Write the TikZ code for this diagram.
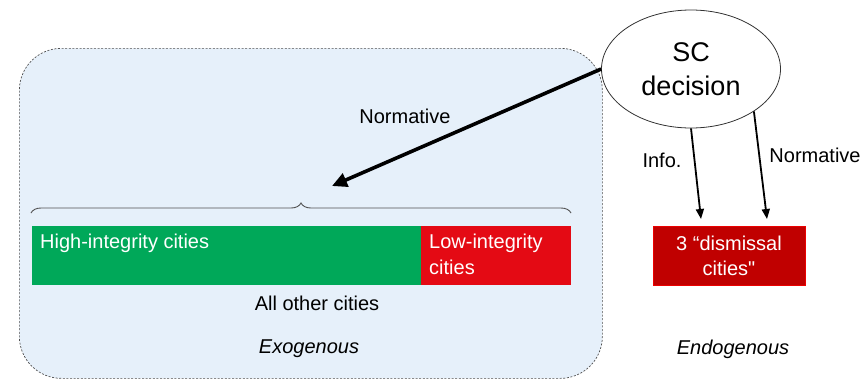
\documentclass[tikz,border=0pt]{standalone}
\usepackage{fontspec}
\setmainfont{Liberation Sans}
\newfontfamily\qfont{Liberation Sans}[Ligatures=TeXOff]
\usetikzlibrary{shapes.geometric,arrows.meta,decorations.pathreplacing}
\definecolor{framefill}{RGB}{230,240,250}
\definecolor{framedraw}{RGB}{80,80,80}
\definecolor{higreen}{RGB}{0,168,89}
\definecolor{lored}{RGB}{228,10,20}
\definecolor{disred}{RGB}{192,0,0}
\tikzset{
  txt/.style={font=\fontsize{20}{26}\selectfont, inner sep=0pt, align=center},
  wtxt/.style={txt, text=white, anchor=base west},
  bar/.style={minimum height=59pt, inner sep=0pt, anchor=north west, draw=none},
  bigarrow/.style={line width=3.6pt, -{Triangle[length=15pt,width=14pt]}},
  smallarrow/.style={line width=1.8pt, -{Triangle[length=10pt,width=8pt]}},
}
\begin{document}
\begin{tikzpicture}[x=1pt,y=-1pt]
\useasboundingbox (0,0) rectangle (864,381);
% frame
\node[draw=framedraw, fill=framefill, line width=0.7pt, dash pattern=on 2pt off 1.6pt,
      rounded corners=42pt, minimum width=583pt, minimum height=330pt, inner sep=0pt,
      anchor=north west] (frame) at (19,48) {};
% ellipse
\node[ellipse, draw=black!80, fill=white, line width=0.8pt, minimum width=179pt, minimum height=118pt,
      inner sep=0pt, align=center, font=\fontsize{27}{34}\selectfont] (sc) at (691,69) {SC\\decision};
% bars
\node[bar, fill=higreen, minimum width=390pt] (high) at (32,226) {};
\node[bar, fill=lored, minimum width=150pt] (low) at (421,226) {};
\node[wtxt] (hightxt) at (40,248) {High-integrity cities};
\node[wtxt] (lowtxt1) at (429,248) {Low-integrity};
\node[wtxt] (lowtxt2) at (429,274) {cities};
% brace
\coordinate (bl) at (31,213);
\coordinate (br) at (571,213);
\draw[framedraw, line width=0.9pt, decorate, decoration={brace, amplitude=10pt, aspect=0.5}] (bl) -- (br);
% labels
\node[txt] (allother) at (317,303) {All other cities};
\node[txt, font=\fontsize{20}{26}\selectfont\itshape] (exo) at (309,349) {Exogenous};
\node[txt, font=\fontsize{20}{26}\selectfont\itshape] (endo) at (733,349) {Endogenous};
% dismissal box
\node[fill=disred, draw=red!70!disred, line width=0.5pt, minimum width=152pt, minimum height=59pt,
      inner sep=0pt, text=white, align=center, font=\fontsize{20}{25}\selectfont] (dis) at (729,255.5) {3 “dismissal\\cities{\qfont"}};
% arrows
\coordinate (normend) at (332,186);
\coordinate (infoend) at (701,219);
\coordinate (normend2) at (767,219);
\draw[bigarrow] (sc.west) -- (normend);
\draw[smallarrow] (sc.south) -- (infoend);
\draw[smallarrow] (sc.-34) -- (normend2);
\node[txt] (normlab) at (405,116) {Normative};
\node[txt] (infolab) at (662,160) {Info.};
\node[txt] (normlab2) at (815,155) {Normative};
\end{tikzpicture}
\end{document}
